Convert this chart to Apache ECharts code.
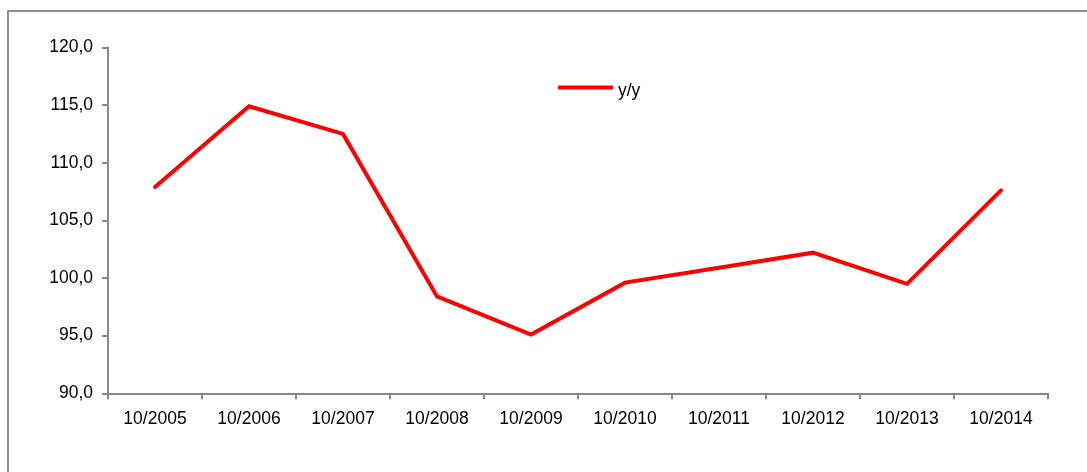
<!DOCTYPE html>
<html>
<head>
<meta charset="utf-8">
<style>
  html, body { margin: 0; padding: 0; background: #fff; }
  #chart { width: 1087px; height: 472px; }
</style>
<script src="https://cdn.jsdelivr.net/npm/echarts@6/dist/echarts.min.js"></script>
</head>
<body>
<div id="chart"></div>
<script>
  // values
  var categories = ['10/2005', '10/2006', '10/2007', '10/2008', '10/2009',
                    '10/2010', '10/2011', '10/2012', '10/2013', '10/2014'];
  var yoyValues = [107.9, 114.9, 112.5, 98.4, 95.1, 99.6, 100.9, 102.2, 99.5, 107.6];
  var seriesName = 'y/y';

  var chart = echarts.init(document.getElementById('chart'));
  var font = 'Liberation Sans, Arial, sans-serif';

  var option = {
    animation: false,
    backgroundColor: '#fff',
    textStyle: { fontFamily: font },
    graphic: [{
      type: 'rect',
      shape: { x: 8, y: 11, width: 1100, height: 480 },
      style: { fill: 'none', stroke: '#8c8c8c', lineWidth: 2 },
      silent: true
    }],
    legend: {
      data: [{ name: seriesName, icon: 'roundRect' }],
      left: 553,
      top: 77,
      itemWidth: 55,
      itemHeight: 4,
      itemGap: 7,
      formatter: '{t|{name}}',
      textStyle: {
        fontFamily: font, fontSize: 17.5, color: '#000',
        rich: { t: { fontFamily: font, fontSize: 17.5, color: '#000', padding: [7, 0, 0, 0] } }
      }
    },
    grid: {
      left: 108,
      right: 39,
      top: 47.5,
      bottom: 78.7,
      containLabel: false
    },
    xAxis: {
      type: 'category',
      data: categories,
      boundaryGap: true,
      axisLine: { lineStyle: { color: '#888', width: 2 } },
      axisTick: { show: true, length: 6, lineStyle: { color: '#888', width: 2 } },
      axisLabel: { color: '#000', fontSize: 17.5, fontFamily: font, margin: 17 },
      splitLine: { show: false }
    },
    yAxis: {
      type: 'value',
      min: 90,
      max: 120,
      interval: 5,
      axisLine: { show: true, lineStyle: { color: '#888', width: 2 } },
      axisTick: { show: true, length: 6, lineStyle: { color: '#888', width: 2 } },
      axisLabel: {
        color: '#000',
        fontSize: 17.5,
        fontFamily: font,
        margin: 15,
        formatter: function (v) { return v.toFixed(1).replace('.', ','); }
      },
      splitLine: { show: false }
    },
    series: [{
      name: seriesName,
      type: 'line',
      data: yoyValues,
      symbol: 'none',
      color: '#ff0000',
      lineStyle: { color: '#ff0000', width: 4, cap: 'round', join: 'miter' }
    }]
  };
  chart.setOption(option);
</script>
</body>
</html>
